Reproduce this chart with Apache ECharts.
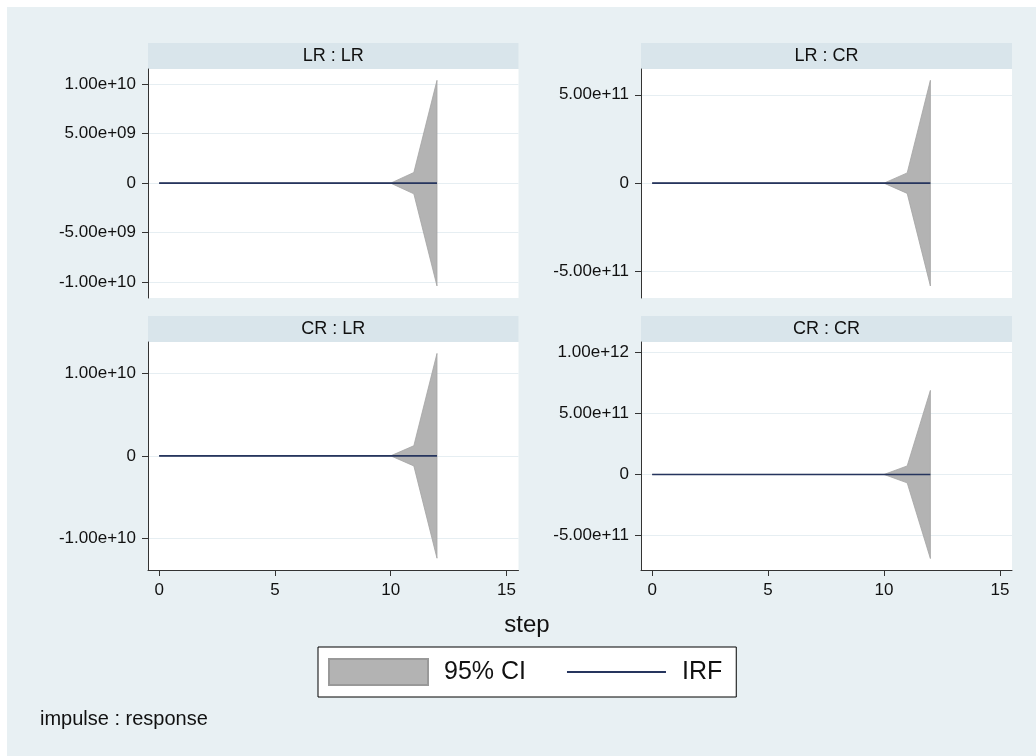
<!DOCTYPE html>
<html>
<head>
<meta charset="utf-8">
<script src="https://cdn.jsdelivr.net/npm/echarts@6/dist/echarts.min.js"></script>
<style>
  html, body { margin: 0; padding: 0; background: #ffffff; }
  #frame { position: absolute; left: 7px; top: 7px; width: 1029px; height: 749px; background: #e8f0f3; }
  #chart { position: absolute; left: 0; top: 0; width: 1036px; height: 756px; }
</style>
</head>
<body>
<div id="frame"></div>
<div id="chart"></div>
<script>
// Impulse-response functions with 95% confidence bands, one panel per impulse : response pair
const steps = [0, 1, 2, 3, 4, 5, 6, 7, 8, 9, 10, 11, 12];

const panelTitles = ['LR : LR', 'LR : CR', 'CR : LR', 'CR : CR'];

const irfLRLR   = [0, 0, 0, 0, 0, 0, 0, 0, 0, 0, 0, 0, 0];
const lowerLRLR = [0, 0, 0, 0, 0, 0, 0, 0, 0, 0, 0, -1.08e9, -1.04e10];
const upperLRLR = [0, 0, 0, 0, 0, 0, 0, 0, 0, 0, 0, 1.08e9, 1.04e10];

const irfLRCR   = [0, 0, 0, 0, 0, 0, 0, 0, 0, 0, 0, 0, 0];
const lowerLRCR = [0, 0, 0, 0, 0, 0, 0, 0, 0, 0, 0, -5.8e10, -5.82e11];
const upperLRCR = [0, 0, 0, 0, 0, 0, 0, 0, 0, 0, 0, 5.8e10, 5.82e11];

const irfCRLR   = [0, 0, 0, 0, 0, 0, 0, 0, 0, 0, 0, 0, 0];
const lowerCRLR = [0, 0, 0, 0, 0, 0, 0, 0, 0, 0, 0, -1.22e9, -1.235e10];
const upperCRLR = [0, 0, 0, 0, 0, 0, 0, 0, 0, 0, 0, 1.22e9, 1.235e10];

const irfCRCR   = [0, 0, 0, 0, 0, 0, 0, 0, 0, 0, 0, 0, 0];
const lowerCRCR = [0, 0, 0, 0, 0, 0, 0, 0, 0, 0, 0, -6.9e10, -6.9e11];
const upperCRCR = [0, 0, 0, 0, 0, 0, 0, 0, 0, 0, 0, 7.0e10, 6.9e11];

// y-axis tick values per panel
const ticksLRLR = [-1e10, -5e9, 0, 5e9, 1e10];
const ticksLRCR = [-5e11, 0, 5e11];
const ticksCRLR = [-1e10, 0, 1e10];
const ticksCRCR = [-5e11, 0, 5e11, 1e12];
const stepTicks = [0, 5, 10, 15];

// y-axis extents per panel
const rangeLRLR = [-1.162e10, 1.155e10];
const rangeLRCR = [-6.5e11, 6.46e11];
const rangeCRLR = [-1.377e10, 1.373e10];
const rangeCRCR = [-7.84e11, 1.087e12];
const stepRange = [-0.48, 15.52];

const panels = [
  { irf: irfLRLR, lo: lowerLRLR, hi: upperLRLR, ticks: ticksLRLR, range: rangeLRLR },
  { irf: irfLRCR, lo: lowerLRCR, hi: upperLRCR, ticks: ticksLRCR, range: rangeLRCR },
  { irf: irfCRLR, lo: lowerCRLR, hi: upperCRLR, ticks: ticksCRLR, range: rangeCRLR },
  { irf: irfCRCR, lo: lowerCRCR, hi: upperCRCR, ticks: ticksCRCR, range: rangeCRCR }
];

// plot-region boxes: [left, top, width, height]
const boxes = [
  [148, 69, 370.5, 229],
  [641, 69, 371, 229],
  [148, 342, 370.5, 228],
  [641, 342, 371, 228]
];
const stripHeight = 26;

const FONT = 'Liberation Sans, Arial, sans-serif';
const INK = '#111111';
const AXIS = '#333333';
const GRID_LINE = '#e6eef2';
const CI_FILL = '#b3b3b3';
const CI_EDGE = '#a3a3a3';
const IRF_COLOR = '#26355e';

function sci(v) {
  if (v === 0) return '0';
  return v.toExponential(2).replace(/e([+-])(\d+)$/, function (m, sign, exp) {
    return 'e' + sign + (exp.length < 2 ? '0' + exp : exp);
  });
}

const grid = [], xAxis = [], yAxis = [], series = [], graphic = [];

panels.forEach(function (p, i) {
  const b = boxes[i];
  const bottomRow = i >= 2;
  grid.push({
    left: b[0], top: b[1], width: b[2], height: b[3],
    show: true, backgroundColor: '#ffffff', borderWidth: 0, containLabel: false
  });
  xAxis.push({
    type: 'value', gridIndex: i, min: stepRange[0], max: stepRange[1],
    axisLine: { show: bottomRow, onZero: false, lineStyle: { color: AXIS, width: 1 } },
    axisTick: { show: bottomRow, length: 6, inside: false, customValues: stepTicks, lineStyle: { color: AXIS } },
    axisLabel: {
      show: bottomRow, customValues: stepTicks, margin: 12,
      color: INK, fontFamily: FONT, fontSize: 17
    },
    splitLine: { show: false }
  });
  yAxis.push({
    type: 'value', gridIndex: i, min: p.range[0], max: p.range[1],
    axisLine: { show: true, onZero: false, lineStyle: { color: AXIS, width: 1 } },
    axisTick: { show: true, length: 6, inside: false, customValues: p.ticks, lineStyle: { color: AXIS } },
    axisLabel: {
      customValues: p.ticks, margin: 12, formatter: sci,
      color: INK, fontFamily: FONT, fontSize: 17
    },
    splitLine: { show: true, lineStyle: { color: GRID_LINE, width: 1 } }
  });

  // confidence band: one polygon running along the upper bound and back along the lower bound
  series.push({
    name: '95% CI', type: 'custom', xAxisIndex: i, yAxisIndex: i,
    silent: true, z: 2,
    itemStyle: { color: CI_FILL },
    encode: { x: 0, y: [1, 2] },
    data: steps.map(function (s, k) { return [s, p.lo[k], p.hi[k]]; }),
    renderItem: function (params, api) {
      if (params.dataIndex !== 0) return null;
      const pts = [];
      for (let k = 0; k < steps.length; k++) pts.push(api.coord([steps[k], p.hi[k]]));
      for (let k = steps.length - 1; k >= 0; k--) pts.push(api.coord([steps[k], p.lo[k]]));
      return {
        type: 'polygon',
        shape: { points: pts },
        style: { fill: CI_FILL, stroke: CI_EDGE, lineWidth: 0.8 }
      };
    }
  });
  series.push({
    name: 'IRF', type: 'line', xAxisIndex: i, yAxisIndex: i,
    symbol: 'none', z: 3, silent: true,
    itemStyle: { color: IRF_COLOR },
    lineStyle: { color: IRF_COLOR, width: 1.6 },
    data: steps.map(function (s, k) { return [s, p.irf[k]]; })
  });

  // panel heading strip
  graphic.push({
    type: 'rect', silent: true,
    shape: { x: b[0], y: b[1] - stripHeight, width: b[2], height: stripHeight },
    style: { fill: '#d9e5eb' }
  });
  graphic.push({
    type: 'text', silent: true,
    x: b[0] + b[2] / 2, y: b[1] - stripHeight / 2,
    style: {
      text: panelTitles[i], fill: INK, font: '18px ' + FONT,
      align: 'center', verticalAlign: 'middle'
    }
  });
});

graphic.push({
  type: 'text', silent: true, x: 527, y: 625,
  style: { text: 'step', fill: INK, font: '24px ' + FONT, align: 'center', verticalAlign: 'middle' }
});
graphic.push({
  type: 'text', silent: true, x: 40, y: 719,
  style: { text: 'impulse : response', fill: INK, font: '20px ' + FONT, align: 'left', verticalAlign: 'middle' }
});

const chart = echarts.init(document.getElementById('chart'), null, { renderer: 'canvas' });
chart.setOption({
  backgroundColor: 'transparent',
  animation: false,
  grid: grid,
  xAxis: xAxis,
  yAxis: yAxis,
  series: series,
  graphic: graphic,
  legend: {
    left: 318, top: 647,
    orient: 'horizontal',
    backgroundColor: '#ffffff',
    borderColor: '#000000', borderWidth: 1,
    padding: [11, 14, 11, 10],
    itemWidth: 99, itemHeight: 26, itemGap: 41,
    selectedMode: false,
    symbolKeepAspect: true,
    textStyle: { color: INK, fontFamily: FONT, fontSize: 25, padding: [0, 0, 0, 11] },
    data: [
      { name: '95% CI', icon: 'rect', itemStyle: { color: CI_FILL, borderColor: '#999999', borderWidth: 2 } },
      { name: 'IRF', icon: 'path://M0,0H100V2H0Z', itemStyle: { color: IRF_COLOR, borderWidth: 0 } }
    ]
  }
});
</script>
</body>
</html>
